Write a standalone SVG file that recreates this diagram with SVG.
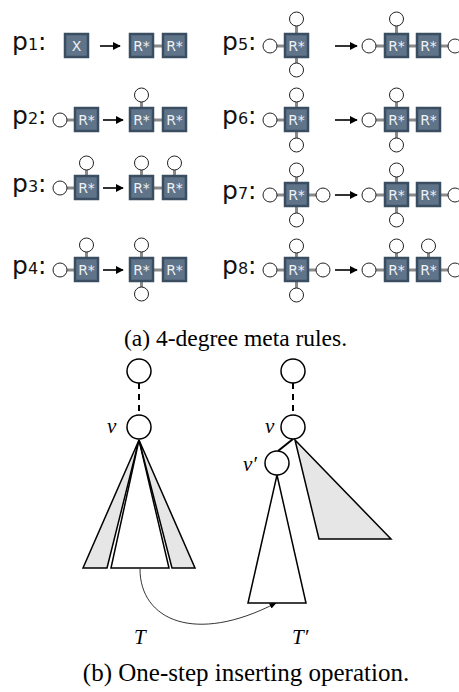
<svg xmlns="http://www.w3.org/2000/svg" width="459" height="692" viewBox="0 0 459 692">
<defs>
<style>
.lbl{font-family:"DejaVu Sans",sans-serif;font-size:25px;fill:#111}
.sub{font-size:16px}
.box{fill:#5f7389;stroke:#3b4d61;stroke-width:2.5}
.bt{font-family:"DejaVu Sans",sans-serif;font-size:14px;fill:#eef1f4;text-anchor:middle}
.c{fill:#fff;stroke:#222;stroke-width:1}
.lk{stroke:#8a8a8a;stroke-width:3;fill:none}
.ar{stroke:#000;stroke-width:1.6;fill:none;marker-end:url(#ah)}
.cap{font-family:"Liberation Serif",serif;font-size:23.5px;fill:#000;text-anchor:middle}
.capb{font-size:25px}
.mv{font-family:"Liberation Serif",serif;font-style:italic;font-size:21px;fill:#000}
.tn{fill:#fff;stroke:#000;stroke-width:1.5}
.tg{fill:#e6e6e6;stroke:#000;stroke-width:1.5}
.tc{fill:#fff;stroke:#000;stroke-width:1.5}
</style>
<marker id="ah" viewBox="0 0 10 10" refX="9" refY="5" markerWidth="5" markerHeight="5" orient="auto" markerUnits="strokeWidth">
<path d="M0,0 L10,5 L0,10 z" fill="#000"/>
</marker>
<marker id="ah2" viewBox="0 0 10 10" refX="9" refY="5" markerWidth="9" markerHeight="9" orient="auto" markerUnits="strokeWidth">
<path d="M0,1 L10,5 L0,9 z" fill="#000"/>
</marker>
</defs>
<rect width="459" height="692" fill="#fff"/>

<!-- p1 -->
<g id="p1">
<text class="lbl" x="12" y="50">p<tspan class="sub">1</tspan>:</text>
<rect class="box" x="65" y="34" width="23" height="23"/><text class="bt" x="76.5" y="51">X</text>
<line class="ar" x1="100" y1="46" x2="120" y2="46"/>
<line class="lk" x1="154" y1="46" x2="163" y2="46"/>
<rect class="box" x="130" y="34" width="23" height="23"/><text class="bt" x="141.5" y="51">R*</text>
<rect class="box" x="163" y="34" width="23" height="23"/><text class="bt" x="174.5" y="51">R*</text>
</g>

<!-- p2 -->
<g id="p2">
<text class="lbl" x="12" y="124">p<tspan class="sub">2</tspan>:</text>
<line class="lk" x1="67" y1="120" x2="75" y2="120"/>
<circle class="c" cx="60" cy="120" r="7"/>
<rect class="box" x="75" y="108" width="23" height="23"/><text class="bt" x="86.5" y="125">R*</text>
<line class="ar" x1="103" y1="120" x2="123" y2="120"/>
<line class="lk" x1="141.5" y1="102" x2="141.5" y2="108"/>
<circle class="c" cx="141.5" cy="95" r="7"/>
<line class="lk" x1="154" y1="120" x2="163" y2="120"/>
<rect class="box" x="130" y="108" width="23" height="23"/><text class="bt" x="141.5" y="125">R*</text>
<rect class="box" x="163" y="108" width="23" height="23"/><text class="bt" x="174.5" y="125">R*</text>
</g>

<!-- p3 -->
<g id="p3">
<text class="lbl" x="12" y="192">p<tspan class="sub">3</tspan>:</text>
<line class="lk" x1="67" y1="188" x2="75" y2="188"/>
<circle class="c" cx="60" cy="188" r="7"/>
<line class="lk" x1="86.5" y1="170" x2="86.5" y2="176"/>
<circle class="c" cx="86.5" cy="163" r="7"/>
<rect class="box" x="75" y="176" width="23" height="23"/><text class="bt" x="86.5" y="193">R*</text>
<line class="ar" x1="103" y1="188" x2="123" y2="188"/>
<line class="lk" x1="141.5" y1="170" x2="141.5" y2="176"/>
<circle class="c" cx="141.5" cy="163" r="7"/>
<line class="lk" x1="174.5" y1="170" x2="174.5" y2="176"/>
<circle class="c" cx="174.5" cy="163" r="7"/>
<line class="lk" x1="154" y1="188" x2="163" y2="188"/>
<rect class="box" x="130" y="176" width="23" height="23"/><text class="bt" x="141.5" y="193">R*</text>
<rect class="box" x="163" y="176" width="23" height="23"/><text class="bt" x="174.5" y="193">R*</text>
</g>

<!-- p4 -->
<g id="p4">
<text class="lbl" x="12" y="274">p<tspan class="sub">4</tspan>:</text>
<line class="lk" x1="67" y1="270" x2="75" y2="270"/>
<circle class="c" cx="60" cy="270" r="7"/>
<line class="lk" x1="86.5" y1="252" x2="86.5" y2="258"/>
<circle class="c" cx="86.5" cy="245" r="7"/>
<rect class="box" x="75" y="258" width="23" height="23"/><text class="bt" x="86.5" y="275">R*</text>
<line class="ar" x1="103" y1="270" x2="123" y2="270"/>
<line class="lk" x1="141.5" y1="252" x2="141.5" y2="258"/>
<circle class="c" cx="141.5" cy="245" r="7"/>
<line class="lk" x1="141.5" y1="282" x2="141.5" y2="288"/>
<circle class="c" cx="141.5" cy="294" r="7"/>
<line class="lk" x1="154" y1="270" x2="163" y2="270"/>
<rect class="box" x="130" y="258" width="23" height="23"/><text class="bt" x="141.5" y="275">R*</text>
<rect class="box" x="163" y="258" width="23" height="23"/><text class="bt" x="174.5" y="275">R*</text>
</g>

<!-- p5 -->
<g id="p5">
<text class="lbl" x="222" y="50">p<tspan class="sub">5</tspan>:</text>
<line class="lk" x1="277" y1="46" x2="285" y2="46"/>
<circle class="c" cx="270" cy="46" r="7"/>
<line class="lk" x1="296.5" y1="25" x2="296.5" y2="34"/>
<circle class="c" cx="296.5" cy="19" r="7"/>
<line class="lk" x1="296.5" y1="58" x2="296.5" y2="64"/>
<circle class="c" cx="296.5" cy="70" r="7"/>
<rect class="box" x="285" y="34" width="23" height="23"/><text class="bt" x="296.5" y="51">R*</text>
<line class="ar" x1="335" y1="46" x2="357" y2="46"/>
<line class="lk" x1="376" y1="46" x2="385" y2="46"/>
<circle class="c" cx="369" cy="46" r="7"/>
<line class="lk" x1="396.5" y1="25" x2="396.5" y2="34"/>
<circle class="c" cx="396.5" cy="19" r="7"/>
<line class="lk" x1="409" y1="46" x2="417" y2="46"/>
<line class="lk" x1="441" y1="46" x2="449" y2="46"/>
<circle class="c" cx="455" cy="46" r="7"/>
<rect class="box" x="385" y="34" width="23" height="23"/><text class="bt" x="396.5" y="51">R*</text>
<rect class="box" x="417" y="34" width="23" height="23"/><text class="bt" x="428.5" y="51">R*</text>
</g>

<!-- p6 -->
<g id="p6">
<text class="lbl" x="222" y="124">p<tspan class="sub">6</tspan>:</text>
<line class="lk" x1="277" y1="120" x2="285" y2="120"/>
<circle class="c" cx="270" cy="120" r="7"/>
<line class="lk" x1="296.5" y1="101" x2="296.5" y2="108"/>
<circle class="c" cx="296.5" cy="95" r="7"/>
<line class="lk" x1="296.5" y1="132" x2="296.5" y2="139"/>
<circle class="c" cx="296.5" cy="145" r="7"/>
<rect class="box" x="285" y="108" width="23" height="23"/><text class="bt" x="296.5" y="125">R*</text>
<line class="ar" x1="335" y1="120" x2="357" y2="120"/>
<line class="lk" x1="376" y1="120" x2="385" y2="120"/>
<circle class="c" cx="369" cy="120" r="7"/>
<line class="lk" x1="396.5" y1="101" x2="396.5" y2="108"/>
<circle class="c" cx="396.5" cy="95" r="7"/>
<line class="lk" x1="396.5" y1="132" x2="396.5" y2="139"/>
<circle class="c" cx="396.5" cy="145" r="7"/>
<line class="lk" x1="409" y1="120" x2="417" y2="120"/>
<rect class="box" x="385" y="108" width="23" height="23"/><text class="bt" x="396.5" y="125">R*</text>
<rect class="box" x="417" y="108" width="23" height="23"/><text class="bt" x="428.5" y="125">R*</text>
</g>

<!-- p7 -->
<g id="p7">
<text class="lbl" x="222" y="199">p<tspan class="sub">7</tspan>:</text>
<line class="lk" x1="277" y1="195" x2="285" y2="195"/>
<circle class="c" cx="270" cy="195" r="7"/>
<line class="lk" x1="308" y1="195" x2="316" y2="195"/>
<circle class="c" cx="323" cy="195" r="7"/>
<line class="lk" x1="296.5" y1="176" x2="296.5" y2="183"/>
<circle class="c" cx="296.5" cy="170" r="7"/>
<line class="lk" x1="296.5" y1="207" x2="296.5" y2="214"/>
<circle class="c" cx="296.5" cy="220" r="7"/>
<rect class="box" x="285" y="183" width="23" height="23"/><text class="bt" x="296.5" y="200">R*</text>
<line class="ar" x1="335" y1="195" x2="357" y2="195"/>
<line class="lk" x1="376" y1="195" x2="385" y2="195"/>
<circle class="c" cx="369" cy="195" r="7"/>
<line class="lk" x1="396.5" y1="176" x2="396.5" y2="183"/>
<circle class="c" cx="396.5" cy="170" r="7"/>
<line class="lk" x1="396.5" y1="207" x2="396.5" y2="214"/>
<circle class="c" cx="396.5" cy="220" r="7"/>
<line class="lk" x1="409" y1="195" x2="417" y2="195"/>
<line class="lk" x1="441" y1="195" x2="449" y2="195"/>
<circle class="c" cx="455" cy="195" r="7"/>
<rect class="box" x="385" y="183" width="23" height="23"/><text class="bt" x="396.5" y="200">R*</text>
<rect class="box" x="417" y="183" width="23" height="23"/><text class="bt" x="428.5" y="200">R*</text>
</g>

<!-- p8 -->
<g id="p8">
<text class="lbl" x="222" y="274">p<tspan class="sub">8</tspan>:</text>
<line class="lk" x1="277" y1="270" x2="285" y2="270"/>
<circle class="c" cx="270" cy="270" r="7"/>
<line class="lk" x1="308" y1="270" x2="316" y2="270"/>
<circle class="c" cx="323" cy="270" r="7"/>
<line class="lk" x1="296.5" y1="252" x2="296.5" y2="258"/>
<circle class="c" cx="296.5" cy="246" r="7"/>
<line class="lk" x1="296.5" y1="282" x2="296.5" y2="289"/>
<circle class="c" cx="296.5" cy="295" r="7"/>
<rect class="box" x="285" y="258" width="23" height="23"/><text class="bt" x="296.5" y="275">R*</text>
<line class="ar" x1="335" y1="270" x2="357" y2="270"/>
<line class="lk" x1="376" y1="270" x2="385" y2="270"/>
<circle class="c" cx="369" cy="270" r="7"/>
<line class="lk" x1="396.5" y1="252" x2="396.5" y2="258"/>
<circle class="c" cx="396.5" cy="246" r="7"/>
<line class="lk" x1="428.5" y1="252" x2="428.5" y2="258"/>
<circle class="c" cx="428.5" cy="246" r="7"/>
<line class="lk" x1="409" y1="270" x2="417" y2="270"/>
<line class="lk" x1="441" y1="270" x2="449" y2="270"/>
<circle class="c" cx="455" cy="270" r="7"/>
<rect class="box" x="385" y="258" width="23" height="23"/><text class="bt" x="396.5" y="275">R*</text>
<rect class="box" x="417" y="258" width="23" height="23"/><text class="bt" x="428.5" y="275">R*</text>
</g>

<text class="cap" x="235.5" y="346">(a) 4-degree meta rules.</text>

<!-- (b) trees -->
<g id="connectors">
<line x1="139" y1="383" x2="139" y2="415" stroke="#000" stroke-width="2" stroke-dasharray="6,5"/>
<line x1="293" y1="383" x2="293" y2="415" stroke="#000" stroke-width="2" stroke-dasharray="6,5"/>
<line x1="293" y1="439" x2="278" y2="451" stroke="#000" stroke-width="2"/>
<path d="M140,569 C140,620 195,645 276,603" fill="none" stroke="#000" stroke-width="0.8" marker-end="url(#ah2)"/>
</g>
<g id="treeT">
<polygon class="tg" points="139,440 83,568 107,568"/>
<polygon class="tn" points="139,440 111,568 169,568"/>
<polygon class="tg" points="139,440 172,568 195,568"/>
</g>
<g id="treeT2">
<polygon class="tg" points="295,440 319,539 391,539"/>
<polygon class="tn" points="277,475 248,603 306,603"/>
</g>
<g id="rootL"><circle class="tc" cx="139" cy="371" r="12"/></g>
<g id="vL"><circle class="tc" cx="139" cy="427" r="12"/><text class="mv" x="107" y="433">v</text></g>
<g id="rootR"><circle class="tc" cx="293" cy="371" r="12"/></g>
<g id="vR"><circle class="tc" cx="293" cy="427" r="12"/><text class="mv" x="265" y="433">v</text></g>
<g id="vp"><circle class="tc" cx="277" cy="463" r="12"/><text class="mv" x="243" y="471">v′</text></g>
<text class="mv" x="134" y="644">T</text>
<text class="mv" x="292" y="644">T′</text>
<text class="cap capb" x="246" y="681">(b) One-step inserting operation.</text>
</svg>
